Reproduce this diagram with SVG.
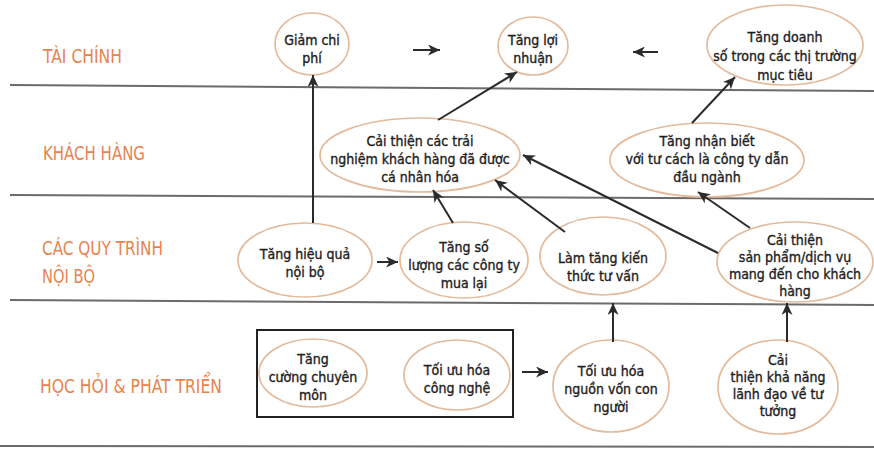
<svg xmlns="http://www.w3.org/2000/svg" width="874" height="449" viewBox="0 0 874 449">
<defs>
<marker id="ah" markerWidth="13" markerHeight="11" refX="12" refY="5.5" orient="auto" markerUnits="userSpaceOnUse">
<path d="M0,0 L12,5.5 L0,11 L3.5,5.5 Z" fill="#2b2b2b"/>
</marker>
</defs>
<style>
.lane{stroke:#6b6b6b;stroke-width:2;fill:none}
.lbl{font-family:"DejaVu Sans Condensed","DejaVu Sans",sans-serif;font-size:20px;fill:#E8834F}
.n ellipse{fill:#fff;stroke:#E3BB9C;stroke-width:1.7}
.n text{font-family:"DejaVu Sans Condensed","DejaVu Sans",sans-serif;font-size:14px;fill:#1e1e1e;stroke:#1e1e1e;stroke-width:0.35;text-anchor:middle}
.c line{stroke:#2b2b2b;stroke-width:2;marker-end:url(#ah)}
</style>
<rect width="874" height="449" fill="#fff"/>
<g id="lanes">
<line class="lane" x1="10" y1="85" x2="874" y2="91"/>
<line class="lane" x1="10" y1="195" x2="874" y2="199"/>
<line class="lane" x1="10" y1="300" x2="874" y2="305"/>
<line class="lane" x1="0" y1="446" x2="874" y2="447" stroke="#bbb"/>
<text class="lbl" x="43" y="63" textLength="79" lengthAdjust="spacingAndGlyphs">TÀI CHÍNH</text>
<text class="lbl" x="43" y="160" textLength="102" lengthAdjust="spacingAndGlyphs">KHÁCH HÀNG</text>
<text class="lbl" x="42" y="255" textLength="121" lengthAdjust="spacingAndGlyphs">CÁC QUY TRÌNH</text>
<text class="lbl" x="42" y="283" textLength="53" lengthAdjust="spacingAndGlyphs">NỘI BỘ</text>
<text class="lbl" x="40" y="393" textLength="182" lengthAdjust="spacingAndGlyphs">HỌC HỎI &amp; PHÁT TRIỂN</text>
</g>
<g id="group-box"><rect x="257" y="330" width="256" height="87" fill="none" stroke="#222" stroke-width="2"/></g>
<g id="giam-chi-phi" class="n"><ellipse cx="312" cy="44" rx="37" ry="31"/><text x="312" y="45">Giảm chi</text><text x="312" y="63">phí</text></g>
<g id="tang-loi-nhuan" class="n"><ellipse cx="533" cy="46" rx="35" ry="29"/><text x="533" y="45">Tăng lợi</text><text x="533" y="63">nhuận</text></g>
<g id="tang-doanh-so" class="n"><ellipse cx="785" cy="45" rx="78" ry="40"/><text x="785" y="42">Tăng doanh</text><text x="785" y="61">số trong các thị trường</text><text x="785" y="80">mục tiêu</text></g>
<g id="cai-thien-trai-nghiem" class="n"><ellipse cx="420" cy="155" rx="100" ry="37"/><text x="420" y="146">Cải thiện các trải</text><text x="420" y="164">nghiệm khách hàng đã được</text><text x="420" y="182">cá nhân hóa</text></g>
<g id="tang-nhan-biet" class="n"><ellipse cx="707" cy="160" rx="97" ry="37"/><text x="707" y="146">Tăng nhận biết</text><text x="707" y="164">với tư cách là công ty dẫn</text><text x="707" y="182">đầu ngành</text></g>
<g id="tang-hieu-qua" class="n"><ellipse cx="305" cy="260" rx="67" ry="37"/><text x="305" y="259">Tăng hiệu quả</text><text x="305" y="277">nội bộ</text></g>
<g id="tang-so-luong" class="n"><ellipse cx="464" cy="260" rx="64" ry="38"/><text x="464" y="252">Tăng số</text><text x="464" y="270">lượng các công ty</text><text x="464" y="288">mua lại</text></g>
<g id="lam-tang-kien-thuc" class="n"><ellipse cx="603" cy="256" rx="63" ry="39"/><text x="603" y="263">Làm tăng kiến</text><text x="603" y="281">thức tư vấn</text></g>
<g id="cai-thien-san-pham" class="n"><ellipse cx="795" cy="262" rx="78" ry="40"/><text x="795" y="245">Cải thiện</text><text x="795" y="262">sản phẩm/dịch vụ</text><text x="795" y="279">mang đến cho khách</text><text x="795" y="296">hàng</text></g>
<g id="tang-cuong-chuyen-mon" class="n"><ellipse cx="313" cy="373" rx="54" ry="34"/><text x="313" y="364">Tăng</text><text x="313" y="382">cường chuyên</text><text x="313" y="400">môn</text></g>
<g id="toi-uu-cong-nghe" class="n"><ellipse cx="457" cy="375" rx="53" ry="35"/><text x="457" y="375">Tối ưu hóa</text><text x="457" y="393">công nghệ</text></g>
<g id="toi-uu-nguon-von" class="n"><ellipse cx="611" cy="386" rx="58" ry="46"/><text x="611" y="376">Tối ưu hóa</text><text x="611" y="394">nguồn vốn con</text><text x="611" y="412">người</text></g>
<g id="cai-thien-lanh-dao" class="n"><ellipse cx="778" cy="387" rx="60" ry="47"/><text x="778" y="365">Cải</text><text x="778" y="382">thiện khả năng</text><text x="778" y="399">lãnh đạo về tư</text><text x="778" y="416">tưởng</text></g>
<g id="connectors" class="c">
<line x1="313" y1="223" x2="313" y2="75"/>
<line x1="438" y1="120" x2="517" y2="72"/>
<line x1="692" y1="123" x2="735" y2="77"/>
<line x1="453" y1="223" x2="433" y2="190"/>
<line x1="565" y1="232" x2="495" y2="180"/>
<line x1="718" y1="253" x2="523" y2="155"/>
<line x1="750" y1="228" x2="698" y2="192"/>
<line x1="377" y1="262" x2="398" y2="262"/>
<line x1="613" y1="342" x2="613" y2="303"/>
<line x1="787" y1="342" x2="787" y2="303"/>
<line x1="522" y1="372" x2="548" y2="372"/>
<line x1="413" y1="50" x2="440" y2="50"/>
<line x1="658" y1="52" x2="633" y2="52"/>
</g>
</svg>
